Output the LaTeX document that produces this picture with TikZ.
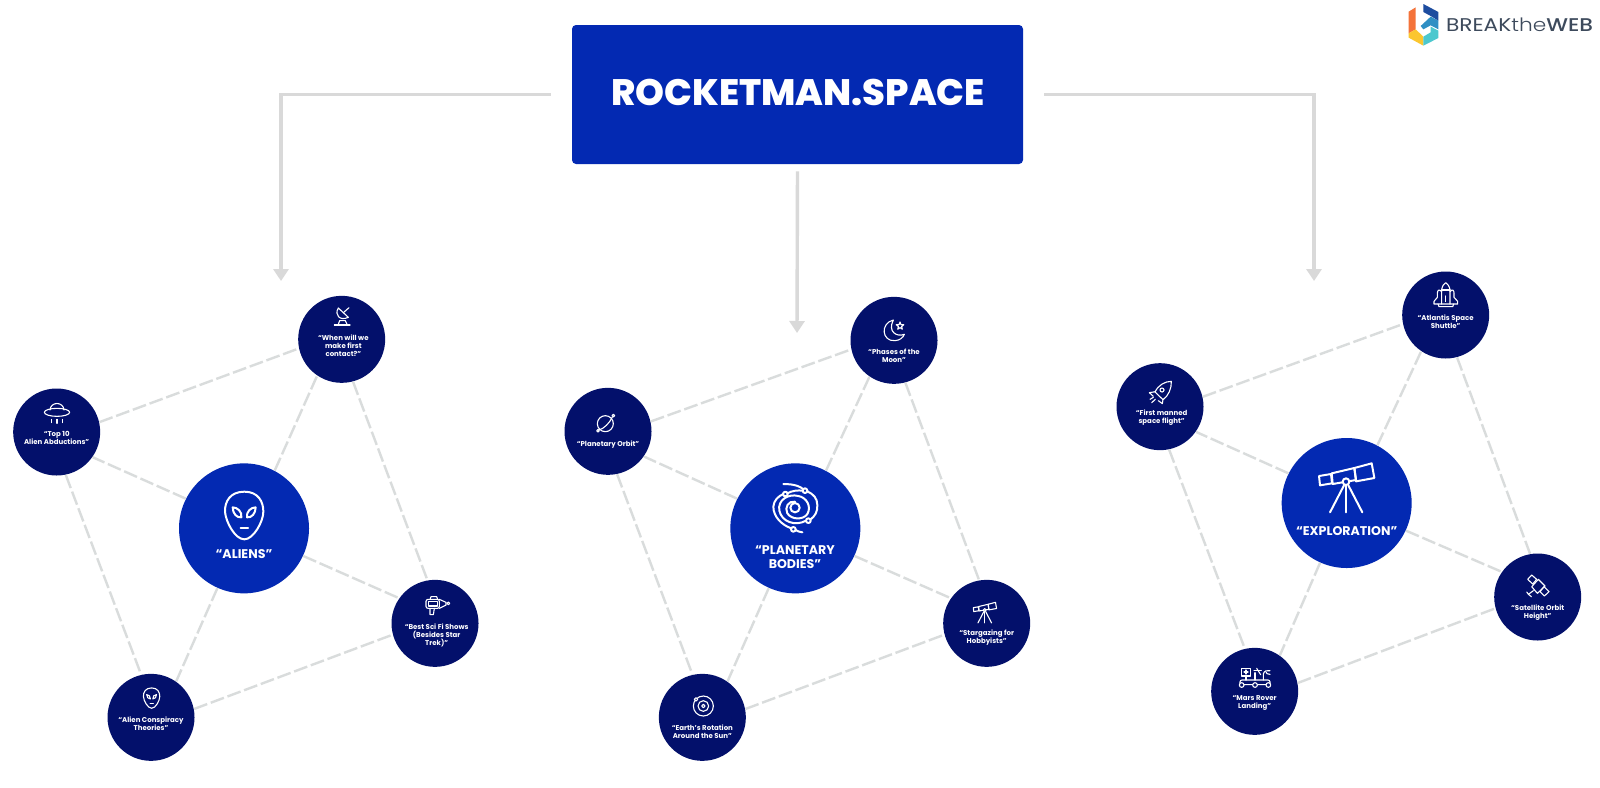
\documentclass[tikz,border=0pt]{standalone}
\usepackage{fontspec}
\setmainfont{Poppins}
\newfontfamily\titlefont{Poppins ExtraBold}
\newfontfamily\logolight{Poppins Light}
\newfontfamily\logomedium{Poppins Medium}
\usetikzlibrary{arrows.meta}
\definecolor{navy}{HTML}{03106B}
\definecolor{royal}{HTML}{0329B2}
\definecolor{flowgray}{HTML}{D9D9D9}
\definecolor{dashgray}{HTML}{D9DCDC}
\definecolor{logotext}{HTML}{3D4A5C}
\definecolor{logoorange}{HTML}{F4733A}
\definecolor{logoyellow}{HTML}{FBC62F}
\definecolor{logoteal}{HTML}{4CC8CE}
\definecolor{logomid}{HTML}{2F8FC4}
\definecolor{logodark}{HTML}{1D4C9F}
\tikzset{
  zoomunits/.style={x=0.166667pt,y=-0.166667pt},
  rootbox/.style={fill=royal,rounded corners=2pt,minimum width=225.5pt,minimum height=69.5pt,inner sep=0pt},
  roottext/.style={inner sep=0pt,text=white,font=\titlefont\fontsize{18.4}{20}\selectfont},
  hub/.style={circle,fill=royal,minimum size=65pt,inner sep=0pt},
  sat/.style={circle,fill=navy,minimum size=43.5pt,inner sep=0pt},
  hublabel/.style={text=white,align=center,inner sep=0pt,font=\bfseries\fontsize{6.3}{6.9}\selectfont},
  satlabel/.style={text=white,align=center,inner sep=0pt,font=\bfseries\fontsize{3.5}{4}\selectfont},
  flow/.style={draw=flowgray,line width=1.7pt,-{Triangle[length=6pt,width=7.5pt]}},
  link/.style={draw=dashgray,line width=1.2pt,dash pattern=on 7pt off 1.9pt},
  ico/.style={draw=white,line width=0.55pt,line cap=round,line join=round},
  bigico/.style={draw=white,line width=1pt,line cap=round,line join=round}
}
\newcommand{\alienhead}[1]{%
  \draw[#1] (733,635) .. controls (690,635) and (674,665) .. (675,695) .. controls (677,725) and (705,778) .. (733,778) .. controls (760,778) and (790,725) .. (790,695) .. controls (790,665) and (775,635) .. (733,635) -- cycle;
  \draw[#1] (698,682) .. controls (712,682) and (727,695) .. (724,712) .. controls (710,714) and (698,700) .. (698,682) -- cycle;
  \draw[#1] (767,682) .. controls (753,682) and (738,695) .. (741,712) .. controls (755,714) and (767,700) .. (767,682) -- cycle;
  \draw[#1] (722,743) -- (744,743);
}
\newcommand{\telescopeicon}[2]{%
  \draw[#1] (657,648) -- (693,642) -- (696,670) -- (660,676) -- cycle;
  \draw[#1] (695,640) -- (763,624) -- (768,660) -- (698,672) -- cycle;
  \draw[#1] (763,624) -- (815,610) -- (823,654) -- (768,664) -- cycle;
  \draw[#1] (732,676) -- (690,757);
  \draw[#1] (738,676) -- (738,757);
  \draw[#1] (745,676) -- (787,757);
  \draw[#1,fill=#2] (738,665) circle (10);
}
\begin{document}
\begin{tikzpicture}[x=0.5pt,y=-0.5pt]
\useasboundingbox (0,0) rectangle (1600,787);
\fill[white] (0,0) rectangle (1600,787);

\node[rootbox] (root) at (797.5,94.5) {};
\node[roottext] (roottxt) at (798,92) {ROCKETMAN.SPACE};
\coordinate (tipA) at (281,281);
\coordinate (tipB) at (797,333);
\coordinate (tipC) at (1314,281);

% Aliens
\begin{scope}[shift={(0,280)},zoomunits]
  \node[hub] (aC) at (732,745) {};
  \node[sat] (aT) at (1025,178) {};
  \node[sat] (aL) at (170,456) {};
  \node[sat] (aR) at (1305,1030) {};
  \node[sat] (aB) at (453,1312) {};
  \node[hublabel] (aClab) at (732,822) {“ALIENS”};
  \node[satlabel] (aTlab) at (1030,198) {“When will we\\make first\\contact?”};
  \node[satlabel] (aLlab) at (170,475) {“Top 10\\Alien Abductions”};
  \node[satlabel] (aRlab) at (1310,1066) {“Best Sci Fi Shows\\(Besides Star\\Trek)”};
  \node[satlabel] (aBlab) at (453,1332) {“Alien Conspiracy\\Theories”};
  \alienhead{bigico}
  % dish
  \draw[ico] (1003,135) -- (1050,135);
  \draw[ico] (1014,135) -- (1019,122) -- (1036,122) -- (1042,135);
  \draw[ico] (1015,84) .. controls (1002,105) and (1020,124) .. (1045,112) -- cycle;
  \draw[ico] (1030,98) -- (1047,83);
  % ufo
  \draw[ico] (150,390) .. controls (152,364) and (190,364) .. (192,390);
  \draw[ico] (171,397) ellipse (38 and 12);
  \draw[ico] (155,418) -- (155,428);
  \draw[ico] (171,418) -- (171,430);
  \draw[ico] (187,418) -- (187,428);
  % raygun
  \draw[ico,rounded corners=1pt] (1278,958) rectangle (1318,985);
  \draw[ico] (1285,965) rectangle (1312,978);
  \draw[ico] (1318,958) -- (1338,967) -- (1338,975) -- (1318,985);
  \draw[ico] (1345,970) circle (4);
  \draw[ico] (1290,985) -- (1290,1004) -- (1300,1004) -- (1303,985);
  \draw[ico] (1290,958) -- (1293,950) -- (1310,950) -- (1313,958);
  % small alien
  \begin{scope}[shift={(455,1254)},scale=0.427,shift={(-733,-706)}]
    \alienhead{ico}
  \end{scope}
\end{scope}

% Planetary bodies
\begin{scope}[shift={(550,280)},zoomunits]
  \node[hub] (bC) at (736,745) {};
  \node[sat] (bT) at (1032,181) {};
  \node[sat] (bL) at (174,454) {};
  \node[sat] (bR) at (1310,1030) {};
  \node[sat] (bB) at (457,1312) {};
  \node[hublabel] (bClab) at (735,831) {“PLANETARY\\BODIES”};
  \node[satlabel] (bTlab) at (1032,226) {“Phases of the\\Moon”};
  \node[satlabel] (bLlab) at (174,493) {“Planetary Orbit”};
  \node[satlabel] (bRlab) at (1310,1073) {“Stargazing for\\Hobbyists”};
  \node[satlabel] (bBlab) at (457,1356) {“Earth’s Rotation\\Around the Sun”};
  % galaxy
  \draw[bigico] (700,612) .. controls (735,612) and (752,620) .. (760,628);
  \draw[bigico] (772,634) .. controls (790,642) and (802,655) .. (802,675) .. controls (803,695) and (795,708) .. (782,718);
  \draw[bigico] (737,750) .. controls (742,753) and (748,756) .. (757,757);
  \draw[bigico] (724,745) .. controls (695,735) and (670,710) .. (670,680) .. controls (671,662) and (685,648) .. (700,642);
  \draw[bigico] (712,640) .. controls (725,632) and (745,630) .. (758,632);
  \draw[bigico] (768,722) .. controls (735,740) and (695,725) .. (688,692) .. controls (682,660) and (715,640) .. (745,648) .. controls (770,652) and (785,680) .. (772,702) .. controls (760,720) and (725,720) .. (712,700) .. controls (703,682) and (715,662) .. (735,665);
  \draw[bigico] (735,683) circle (14);
  \foreach \gx/\gy in {706/642,765/632,775/722,730/748} \draw[bigico] (\gx,\gy) circle (7);
  % moon and star
  \draw[ico] (1030,120) .. controls (990,130) and (995,185) .. (1035,182) .. controls (1050,181) and (1060,172) .. (1063,163) .. controls (1040,172) and (1012,155) .. (1030,120) -- cycle;
  \draw[ico,shift={(1050,138)}] (0,-12) -- (2.9,-4) -- (11.4,-3.7) -- (4.8,1.5) -- (7,9.7) -- (0,5) -- (-7,9.7) -- (-4.8,1.5) -- (-11.4,-3.7) -- (-2.9,-4) -- cycle;
  % planet
  \draw[ico] (166,431) circle (24);
  \draw[ico] (146,450) .. controls (160,448) and (180,428) .. (187,411);
  \draw[ico] (190,407) circle (4);
  \draw[ico] (144,452) circle (4);
  % telescope
  \begin{scope}[shift={(1304,998)},scale=0.42,shift={(-738,-684)}]
    \telescopeicon{ico}{navy}
  \end{scope}
  % solar
  \draw[ico] (460,1278) circle (30);
  \draw[ico] (460,1278) circle (16);
  \draw[ico] (460,1278) circle (5);
  \draw[ico,fill=navy] (438,1258) circle (5);
\end{scope}

% Exploration
\begin{scope}[shift={(1100,260)},zoomunits]
  \node[hub] (cC) at (740,729) {};
  \node[sat] (cT) at (1037,165) {};
  \node[sat] (cL) at (180,440) {};
  \node[sat] (cR) at (1313,1011) {};
  \node[sat] (cB) at (464,1294) {};
  \node[hublabel] (cClab) at (740,814) {“EXPLORATION”};
  \node[satlabel] (cTlab) at (1037,185) {“Atlantis Space\\Shuttle”};
  \node[satlabel] (cLlab) at (185,474) {“First manned\\space flight”};
  \node[satlabel] (cRlab) at (1313,1057) {“Satellite Orbit\\Height”};
  \node[satlabel] (cBlab) at (464,1328) {“Mars Rover\\Landing”};
  \telescopeicon{bigico}{royal}
  % shuttle
  \draw[ico] (1025,132) -- (1025,88) .. controls (1027,78) and (1032,70) .. (1037,68) .. controls (1042,70) and (1047,78) .. (1050,88) -- (1050,132);
  \draw[ico] (1025,95) .. controls (1016,85) and (1012,92) .. (1012,100) -- (1012,112) -- (1002,124) -- (1002,132) -- (1073,132) -- (1073,124) -- (1062,112) -- (1062,100) .. controls (1062,92) and (1058,85) .. (1050,95);
  \draw[ico] (1014,132) -- (1017,140) -- (1058,140) -- (1061,132);
  \draw[ico] (1037,108) -- (1037,125);
  \draw[ico] (1025,90) -- (1050,90);
  % rocket
  \draw[ico] (214,364) .. controls (195,364) and (175,375) .. (165,396) -- (189,419) .. controls (205,408) and (215,385) .. (214,364) -- cycle;
  \draw[ico] (186,390) circle (6);
  \draw[ico] (166,395) -- (148,398) -- (160,409);
  \draw[ico] (189,418) -- (187,431) -- (175,422);
  \draw[ico] (150,418) -- (160,412);
  \draw[ico] (155,428) -- (166,418);
  % satellite
  \draw[ico] (1295,945) -- (1310,958) -- (1298,972) -- (1283,958) -- cycle;
  \draw[ico] (1332,980) -- (1347,995) -- (1333,1008) -- (1320,995) -- cycle;
  \draw[ico] (1315,958) -- (1335,978) -- (1312,1000) -- (1295,980) -- cycle;
  \draw[ico] (1300,992) -- (1285,1003);
  \draw[ico] (1280,996) .. controls (1284,1002) and (1288,1006) .. (1294,1010);
  % rover
  \draw[ico,rounded corners=1pt] (420,1260) rectangle (510,1274);
  \foreach \wx in {425,465,505} {\draw[ico,fill=navy] (\wx,1275) circle (7);}
  \draw[ico] (425,1225) rectangle (452,1248);
  \draw[ico] (438,1230) -- (438,1242);
  \draw[ico] (432,1236) -- (444,1236);
  \draw[ico] (438,1248) -- (438,1260);
  \draw[ico] (465,1260) -- (465,1238);
  \draw[ico] (470,1225) -- (482,1244);
  \draw[ico] (462,1232) -- (484,1232);
  \draw[ico] (490,1260) -- (490,1242) .. controls (492,1232) and (502,1230) .. (510,1232);
  \draw[ico] (510,1243) .. controls (502,1243) and (498,1240) .. (498,1236);
\end{scope}

% main arrows
\draw[flow,shorten <=10.5pt] (root.west) -| (tipA);
\draw[flow,shorten <=3.5pt] (root.south) -- (tipB);
\draw[flow,shorten <=10.5pt] (root.east) -| (tipC);

% dashed links of each group
\foreach \p in {a,b,c} {
  \draw[link] (\p L.13) -- (\p T.192);
  \draw[link] (\p T.285) -- (\p R.100);
  \draw[link] (\p L.282) -- (\p B.103);
  \draw[link] (\p B.11.6) -- (\p R.195);
  \draw[link] (\p C.62) -- (\p T.236.7);
  \draw[link] (\p C.153) -- (\p L.325);
  \draw[link] (\p C.335) -- (\p R.145);
  \draw[link] (\p C.246.4) -- (\p B.55.5);
}

% logo
\begin{scope}[shift={(1380,0)},zoomunits]
  \fill[logoorange] (86,35) -- (107,22) -- (107,88) -- (86,100) -- cycle;
  \fill[logoyellow] (86,100) -- (107,88) -- (130,110) -- (130,137) -- (86,113) -- cycle;
  \fill[logoteal] (130,110) -- (152,97) -- (152,80) -- (175,92) -- (175,114) -- (130,137) -- cycle;
  \fill[logomid] (122,78) -- (152,50) -- (175,62) -- (175,88) -- (152,76) -- (130,88) -- cycle;
  \fill[logodark] (130,12) -- (175,36) -- (175,62) -- (152,48) -- (130,36) -- cycle;
  \node[inner sep=0pt,anchor=west,text=logotext,font=\fontsize{9.2}{10}\selectfont] (logotxt) at (197,74) {\scalebox{1.18}[1]{BREAK{\logolight the}{\logomedium WEB}}};
\end{scope}
\end{tikzpicture}
\end{document}
